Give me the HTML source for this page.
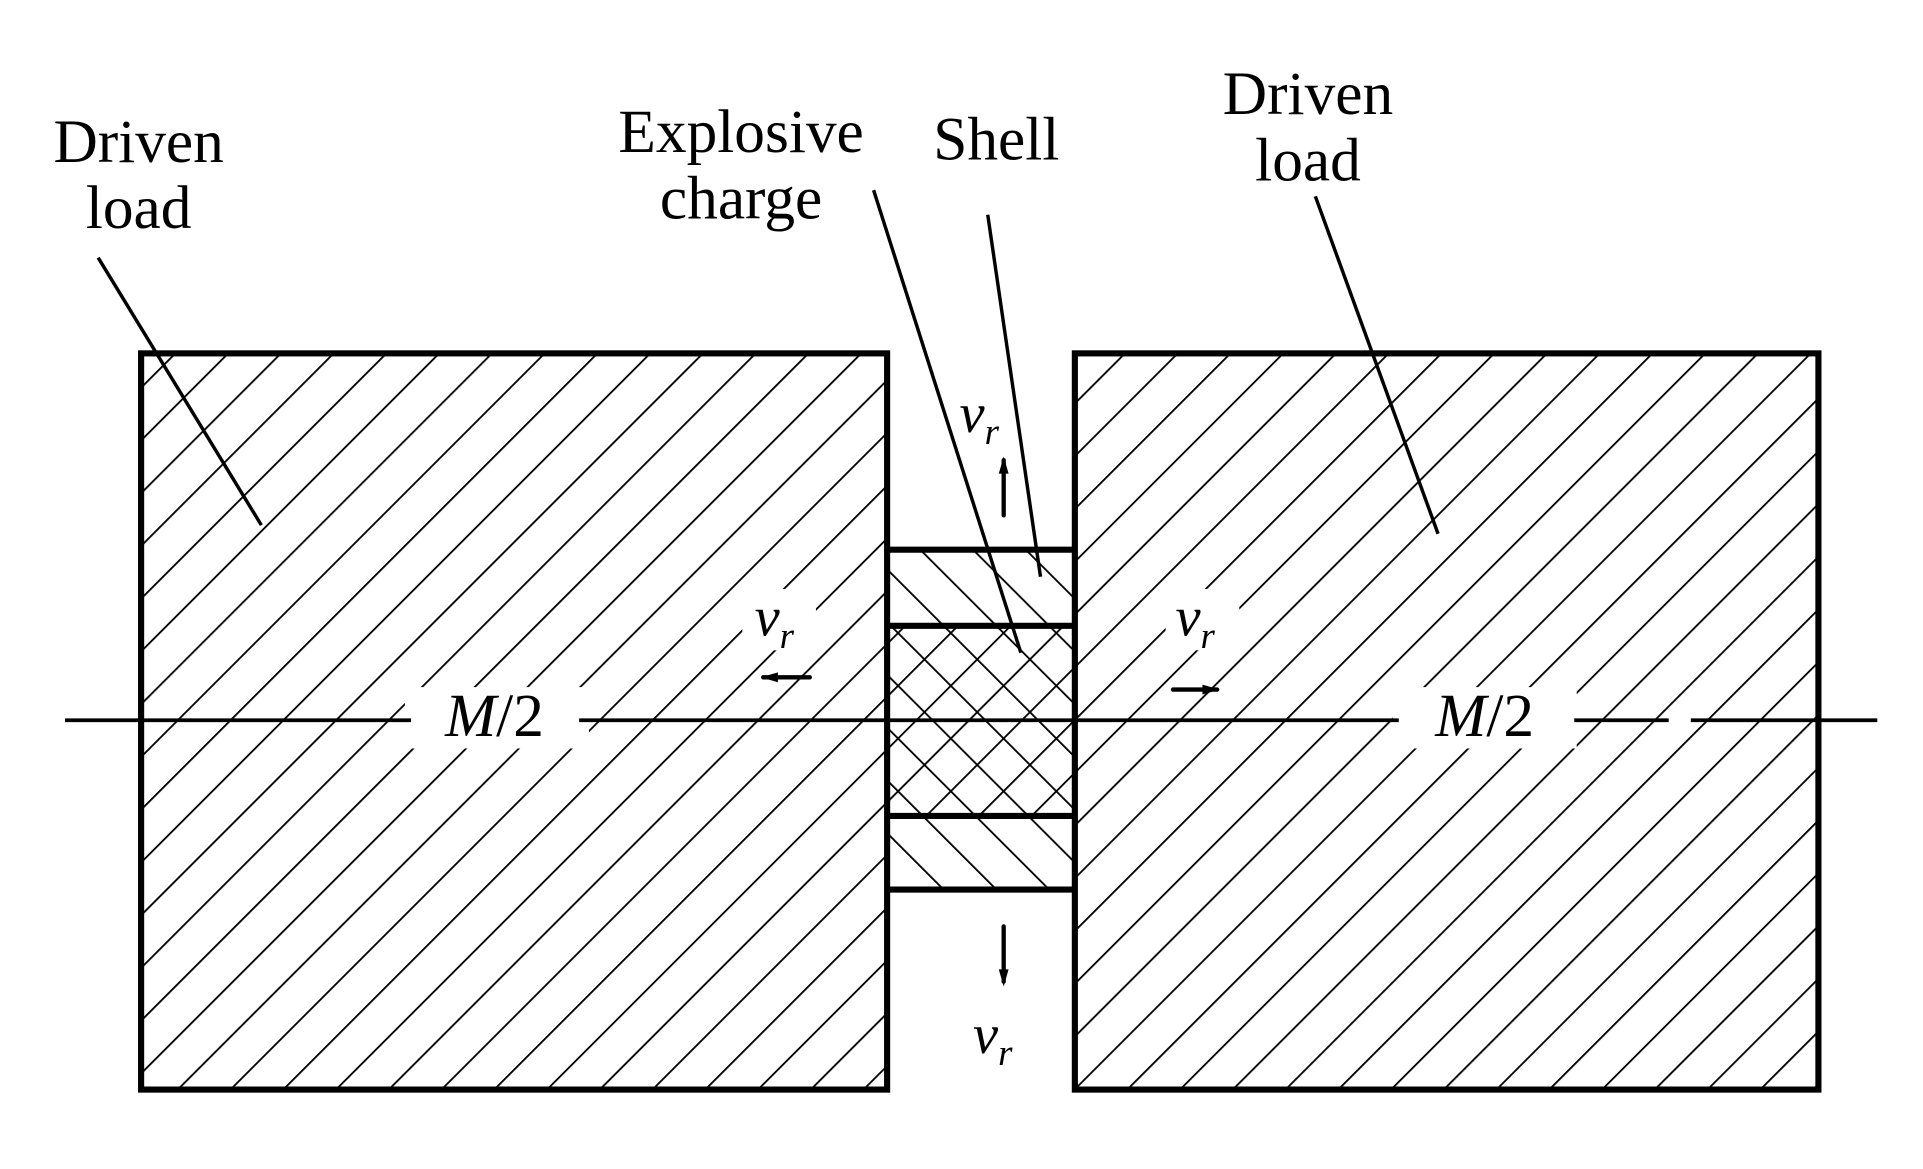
<!DOCTYPE html>
<html><head><meta charset="utf-8"><style>
html,body{margin:0;padding:0;background:#fff;}
svg{display:block;}
text{font-family:"Liberation Serif",serif;fill:#000;}
</style></head><body>
<svg width="1923" height="1169" viewBox="0 0 1923 1169" xmlns="http://www.w3.org/2000/svg">
<defs>
<pattern id="h1" patternUnits="userSpaceOnUse" width="30.4" height="30.4" patternTransform="rotate(45)">
<line x1="0" y1="0" x2="0" y2="30.4" stroke="#000" stroke-width="3"/>
</pattern>
<pattern id="h2" patternUnits="userSpaceOnUse" width="30.4" height="30.4" patternTransform="rotate(-45)">
<line x1="0" y1="0" x2="0" y2="30.4" stroke="#000" stroke-width="3"/>
</pattern>
</defs>
<g transform="scale(1.227)">
<rect x="115" y="288" width="608" height="600" fill="url(#h1)"/>
<rect x="876" y="288" width="606" height="600" fill="url(#h1)"/>
<rect x="725" y="448" width="150" height="62" fill="url(#h2)"/>
<rect x="725" y="665" width="150" height="60" fill="url(#h2)"/>
<rect x="725" y="510" width="150" height="155" fill="url(#h1)"/>
<rect x="725" y="510" width="150" height="155" fill="url(#h2)"/>
<rect x="330" y="560" width="150" height="50" fill="#fff"/>
<rect x="1135" y="560" width="150" height="50" fill="#fff"/>
<rect x="605" y="480" width="60" height="50" fill="#fff"/>
<rect x="950" y="480" width="60" height="50" fill="#fff"/>
<rect x="775" y="310" width="60" height="55" fill="#fff"/>
<g stroke="#000" stroke-width="5" fill="none">
<rect x="115" y="288" width="608" height="600"/>
<rect x="876" y="288" width="606" height="600"/>
<line x1="725" y1="448" x2="875" y2="448"/>
<line x1="725" y1="510" x2="875" y2="510"/>
<line x1="725" y1="665" x2="875" y2="665"/>
<line x1="725" y1="725" x2="875" y2="725"/>
</g>
<g stroke="#000" stroke-width="3">
<line x1="53" y1="587" x2="335" y2="587"/>
<line x1="472" y1="587" x2="1140" y2="587"/>
<line x1="1283" y1="587" x2="1360" y2="587"/>
<line x1="1378" y1="587" x2="1530" y2="587"/>
</g>
<g stroke="#000" stroke-width="2.8" fill="none">
<line x1="80" y1="210" x2="213" y2="428"/>
<line x1="712" y1="155" x2="832" y2="532"/>
<line x1="805" y1="175" x2="848" y2="470"/>
<line x1="1072" y1="160" x2="1172" y2="435"/>
</g>
<g stroke="#000" stroke-width="3.5" stroke-linecap="round">
<line x1="818" y1="375" x2="818" y2="420"/>
<line x1="818" y1="755" x2="818" y2="800"/>
<line x1="622" y1="552" x2="660" y2="552"/>
<line x1="956" y1="562" x2="992" y2="562"/>
</g>
<g fill="#000">
<polygon points="814,386 822,386 818,372"/>
<polygon points="814,790 822,790 818,804"/>
<polygon points="634,548 634,556 620,552"/>
<polygon points="980,558 980,566 994,562"/>
</g>
<g font-size="50" text-anchor="middle">
<text x="113" y="132">Driven</text>
<text x="113" y="186">load</text>
<text x="604" y="124">Explosive</text>
<text x="604" y="178">charge</text>
<text x="812" y="130">Shell</text>
<text x="1066" y="93">Driven</text>
<text x="1066" y="147">load</text>
<text x="403" y="600" font-style="italic">M<tspan font-style="normal">/2</tspan></text>
<text x="1210" y="600" font-style="italic">M<tspan font-style="normal">/2</tspan></text>
</g>
<g font-size="46" font-style="italic">
<text x="782" y="352">v<tspan font-size="30" dy="10">r</tspan></text>
<text x="615" y="518">v<tspan font-size="30" dy="10">r</tspan></text>
<text x="958" y="518">v<tspan font-size="30" dy="10">r</tspan></text>
<text x="793" y="858">v<tspan font-size="30" dy="10">r</tspan></text>
</g>
</g>
</svg>
</body></html>
